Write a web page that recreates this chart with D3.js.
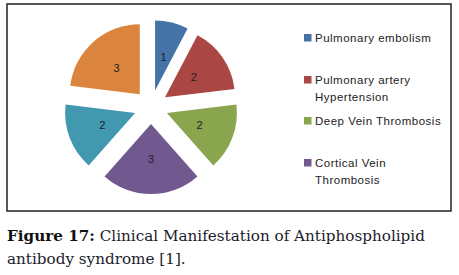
<!DOCTYPE html>
<html>
<head>
<meta charset="utf-8">
<script src="https://cdn.jsdelivr.net/npm/d3@7"></script>
<style>
  body { margin: 0; background: #fff; }
  svg { display: block; }
</style>
</head>
<body>
<svg id="chart" width="459" height="275"></svg>
<script>
// chart data
const categories = ["Pulmonary embolism", "Pulmonary artery Hypertension", "Deep Vein Thrombosis", "Cortical Vein Thrombosis", "", ""];
const values = [1, 2, 2, 3, 2, 3];
const colors = ["#4572a7", "#aa4643", "#89a54e", "#71588f", "#4198af", "#db843d"];
// legend only lists the first four (wrapped as in the original)
const legendLines = [["Pulmonary embolism"], ["Pulmonary artery", "Hypertension"], ["Deep Vein Thrombosis"], ["Cortical Vein", "Thrombosis"]];
const captionBold = "Figure 17:";
const captionLines = [" Clinical Manifestation of Antiphospholipid", "antibody syndrome [1]."];

const svg = d3.select("#chart");

// frame
svg.append("rect")
  .attr("x", 7).attr("y", 4)
  .attr("width", 444).attr("height", 207)
  .attr("fill", "#fff")
  .attr("stroke", "#222")
  .attr("stroke-width", 1.5);

const radius = 70;
const explode = 17;
const cx = 151, cy = 107;

const pie = d3.pie().sort(null).value(d => d);
const arc = d3.arc().innerRadius(0).outerRadius(radius);
const slices = pie(values);

const g = svg.append("g").attr("transform", `translate(${cx}, ${cy})`);

// offset every slice along its middle angle
const shift = (d, k) => {
  const a = (d.startAngle + d.endAngle) / 2;
  return [Math.sin(a) * k, -Math.cos(a) * k];
};

g.selectAll(".slice")
  .data(slices)
  .enter()
  .append("path")
  .attr("class", "slice")
  .attr("d", arc)
  .attr("fill", (d, i) => colors[i])
  .attr("transform", d => `translate(${shift(d, explode)})`);

g.selectAll(".val")
  .data(slices)
  .enter()
  .append("text")
  .attr("class", "val")
  .attr("x", d => shift(d, explode + radius * 0.5)[0])
  .attr("y", d => shift(d, explode + radius * 0.5)[1] + 4)
  .attr("text-anchor", "middle")
  .style("font-family", "'Liberation Sans', Arial, sans-serif")
  .style("font-size", "11px")
  .style("fill", "#1e1e2a")
  .text(d => d.value);

// legend
const legendY = [38, 80, 121, 163];
const legend = svg.append("g");
legendLines.forEach((lines, i) => {
  legend.append("rect")
    .attr("x", 304).attr("y", legendY[i] - 4)
    .attr("width", 7.5).attr("height", 7.5)
    .attr("fill", colors[i]);
  lines.forEach((t, j) => {
    legend.append("text")
      .attr("x", 315)
      .attr("y", legendY[i] + 4 + j * 16.5)
      .style("font-family", "'Liberation Sans', Arial, sans-serif")
      .style("font-size", "11.5px")
      .style("letter-spacing", "0.5px")
      .style("fill", "#222")
      .text(t);
  });
});

// caption
const cap = svg.append("text")
  .attr("x", 7).attr("y", 241)
  .style("font-family", "'DejaVu Serif', serif")
  .style("font-size", "15.2px")
  .style("fill", "#1c1c2c");
cap.append("tspan").style("font-weight", "bold").style("fill", "#111").text(captionBold);
cap.append("tspan").text(captionLines[0]);
svg.append("text")
  .attr("x", 7).attr("y", 264)
  .style("font-family", "'DejaVu Serif', serif")
  .style("font-size", "15.2px")
  .style("fill", "#1c1c2c")
  .text(captionLines[1]);
</script>
</body>
</html>
